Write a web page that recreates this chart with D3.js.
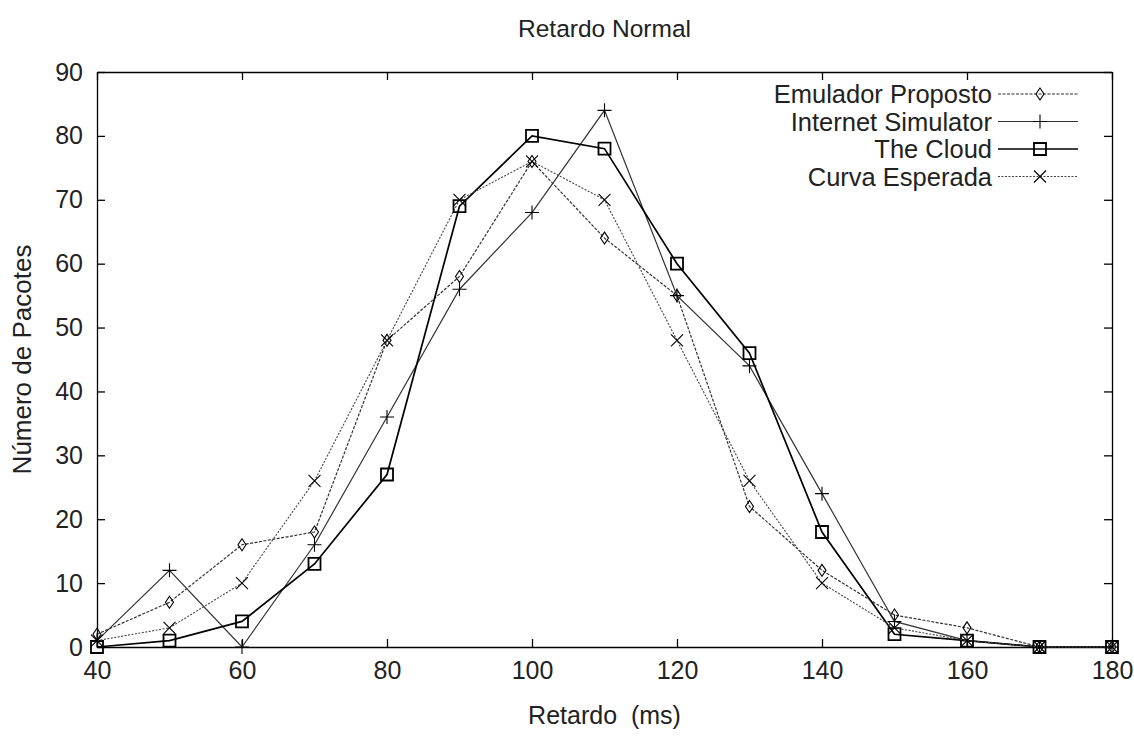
<!DOCTYPE html>
<html>
<head>
<meta charset="utf-8">
<script src="https://cdn.jsdelivr.net/npm/d3@7"></script>
<style>
	body { margin: 0; background: #fff; }
	text { font-family: "Liberation Sans", Arial, sans-serif; fill: #222; }
	.axis path, .axis line { stroke: #000; stroke-width: 1.3; }
	.axis text { font-size: 25px; }
</style>
</head>
<body>
<svg class="chart"></svg>
<script>
/* Retardo Normal - line chart of packet delay distribution */

// Data
var retardos = [40, 50, 60, 70, 80, 90, 100, 110, 120, 130, 140, 150, 160, 170, 180];
var emuladorProposto = [2, 7, 16, 18, 48, 58, 76, 64, 55, 22, 12, 5, 3, 0, 0];
var internetSimulator = [1, 12, 0, 16, 36, 56, 68, 84, 55, 44, 24, 4, 1, 0, 0];
var theCloud = [0, 1, 4, 13, 27, 69, 80, 78, 60, 46, 18, 2, 1, 0, 0];
var curvaEsperada = [1, 3, 10, 26, 48, 70, 76, 70, 48, 26, 10, 3, 1, 0, 0];
var xTicks = [40, 60, 80, 100, 120, 140, 160, 180];
var yTicks = [0, 10, 20, 30, 40, 50, 60, 70, 80, 90];

// Marker shapes, centred on 0,0
function markerPath(kind) {
	if (kind == "diamond") return "M0,-6L4,0L0,6L-4,0Z";
	if (kind == "plus") return "M-7,0H7M0,-7V7";
	if (kind == "square") return "M-6,-6H6V6H-6Z";
	return "M-6,-6L6,6M-6,6L6,-6";
}

function drawLineChart() {
	var margin = {top: 72, right: 22, bottom: 91, left: 97},
		width = 1134 - margin.left - margin.right,
		height = 738 - margin.top - margin.bottom;

	var series = [
		{name: "Emulador Proposto", values: emuladorProposto, marker: "diamond", stroke: "#333", sw: 1.2, dash: "3,1.5"},
		{name: "Internet Simulator", values: internetSimulator, marker: "plus", stroke: "#333", sw: 1.2, dash: null},
		{name: "The Cloud", values: theCloud, marker: "square", stroke: "#000", sw: 1.7, dash: null},
		{name: "Curva Esperada", values: curvaEsperada, marker: "x", stroke: "#444", sw: 1.1, dash: "2,1.5"}
	];

	var x = d3.scaleLinear()
		.domain([40, 180])
		.range([0, width]);

	var y = d3.scaleLinear()
		.domain([0, 90])
		.range([height, 0]);

	var svg = d3.select(".chart")
		.attr("width", 1134)
		.attr("height", 738);

	var chart = svg.append("g")
		.attr("transform", "translate(" + margin.left + "," + margin.top + ")");

	// frame with inward ticks on all sides (gnuplot style)
	chart.append("g")
		.attr("class", "x axis")
		.attr("transform", "translate(0," + height + ")")
		.call(d3.axisBottom(x).tickValues(xTicks).tickSizeInner(-8).tickSizeOuter(0).tickPadding(14));

	chart.append("g")
		.attr("class", "x axis")
		.call(d3.axisTop(x).tickValues(xTicks).tickSizeInner(-8).tickSizeOuter(0).tickFormat(""));

	chart.append("g")
		.attr("class", "y axis")
		.call(d3.axisLeft(y).tickValues(yTicks).tickSizeInner(-8).tickSizeOuter(0).tickPadding(14));

	chart.append("g")
		.attr("class", "y axis")
		.attr("transform", "translate(" + width + ",0)")
		.call(d3.axisRight(y).tickValues(yTicks).tickSizeInner(-8).tickSizeOuter(0).tickFormat(""));

	var line = d3.line()
		.x(function(d) { return x(d.x); })
		.y(function(d) { return y(d.y); });

	series.forEach(function(s) {
		var pts = retardos.map(function(r, i) { return {x: r, y: s.values[i]}; });

		chart.append("path")
			.datum(pts)
			.attr("fill", "none")
			.attr("stroke", s.stroke)
			.attr("stroke-width", s.sw)
			.attr("stroke-dasharray", s.dash)
			.attr("d", line);

		chart.selectAll(".pt-" + s.marker)
			.data(pts)
		  .enter().append("path")
			.attr("class", "pt-" + s.marker)
			.attr("transform", function(d) { return "translate(" + x(d.x) + "," + y(d.y) + ")"; })
			.attr("d", markerPath(s.marker))
			.attr("fill", "none")
			.attr("stroke", "#000")
			.attr("stroke-width", s.marker == "square" ? 1.8 : 1.1);
	});

	// legend, top right inside plot
	var legend = chart.selectAll(".legend")
		.data(series)
	  .enter().append("g")
		.attr("class", "legend")
		.attr("transform", function(d, i) { return "translate(0," + (22 + i * 27.5) + ")"; });

	legend.append("text")
		.attr("x", 895)
		.attr("dy", "0.36em")
		.attr("text-anchor", "end")
		.style("font-size", "25.5px")
		.text(function(d) { return d.name; });

	legend.append("line")
		.attr("x1", 901)
		.attr("x2", 981)
		.attr("stroke", function(d) { return d.stroke; })
		.attr("stroke-width", function(d) { return d.sw; })
		.attr("stroke-dasharray", function(d) { return d.dash; });

	legend.append("path")
		.attr("transform", "translate(943,0)")
		.attr("d", function(d) { return markerPath(d.marker); })
		.attr("fill", "none")
		.attr("stroke", "#000")
		.attr("stroke-width", function(d) { return d.marker == "square" ? 1.8 : 1.1; });

	// titles
	svg.append("text")
		.attr("x", margin.left + width / 2)
		.attr("y", 37)
		.attr("text-anchor", "middle")
		.style("font-size", "24.5px")
		.text("Retardo Normal");

	svg.append("text")
		.attr("x", margin.left + width / 2)
		.attr("y", 724)
		.attr("text-anchor", "middle")
		.style("font-size", "25px")
		.style("white-space", "pre")
		.text("Retardo  (ms)");

	svg.append("text")
		.attr("transform", "translate(31," + (margin.top + height / 2) + ") rotate(-90)")
		.attr("text-anchor", "middle")
		.style("font-size", "26px")
		.text("Número de Pacotes");
}

drawLineChart();
</script>
</body>
</html>
